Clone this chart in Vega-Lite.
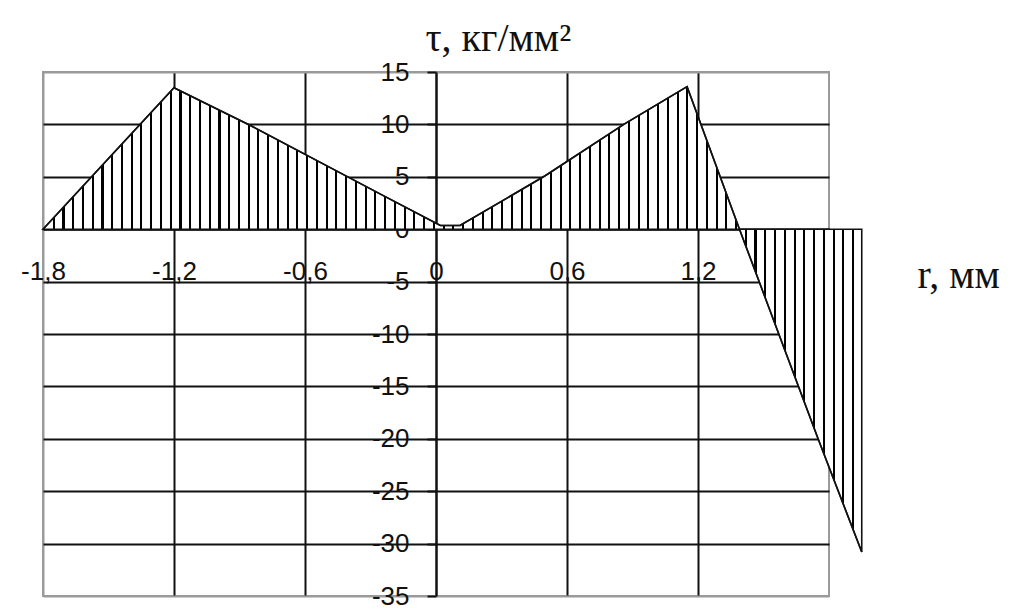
{
  "$schema": "https://vega.github.io/schema/vega-lite/v6.json",
  "width": 786,
  "height": 524,
  "autosize": {"type": "none"},
  "padding": {"left": 43, "top": 72, "right": 195, "bottom": 14},
  "background": "white",
  "config": {"view": {"stroke": "#9a9a9a", "strokeWidth": 2}},
  "data": {
    "values": [
      {"r": -1.8, "tau": 0},
      {"r": -1.2, "tau": 13.5},
      {"r": -0.85, "tau": 9.9},
      {"r": -0.25, "tau": 3.3},
      {"r": 0.02, "tau": 0.35},
      {"r": 0.11, "tau": 0.35},
      {"r": 0.5, "tau": 5.1},
      {"r": 0.86, "tau": 10},
      {"r": 1.15, "tau": 13.6},
      {"r": 1.39, "tau": 0},
      {"r": 1.75, "tau": -20},
      {"r": 1.95, "tau": -30.8}
    ]
  },
  "encoding": {
    "x": {
      "field": "r",
      "type": "quantitative",
      "scale": {"domain": [-1.8, 1.8], "nice": false, "zero": false},
      "axis": {
        "orient": "bottom",
        "offset": -366.8,
        "values": [-1.8, -1.2, -0.6, 0, 0.6, 1.2],
        "labelExpr": "datum.value == 0 ? '0' : replace(replace(format(datum.value, '.1f'), '.', ','), '\u2212', '-')",
        "ticks": false,
        "domainColor": "#111",
        "domainWidth": 2,
        "grid": true,
        "gridColor": {"condition": {"test": "datum.value < -1.7", "value": "#9a9a9a"}, "value": "#111"},
        "gridWidth": 2,
        "labelFont": "Liberation Sans",
        "labelFontSize": 26,
        "labelColor": "#111",
        "labelPadding": 29,
        "labelOverlap": false,
        "labelFlush": false,
        "title": "r, мм",
        "titleFont": "Liberation Serif",
        "titleFontSize": 40,
        "titleFontWeight": "normal",
        "titleColor": "#111",
        "titleAlign": "left",
        "titleBaseline": "alphabetic",
        "titleX": 874,
        "titleY": 58
      }
    },
    "y": {
      "field": "tau",
      "type": "quantitative",
      "scale": {"domain": [-35, 15], "nice": false},
      "axis": {
        "orient": "left",
        "offset": -393,
        "values": [15, 10, 5, 0, -5, -10, -15, -20, -25, -30, -35],
        "labelExpr": "replace(format(datum.value, 'd'), '\u2212', '-')",
        "tickSize": 9,
        "tickWidth": 2,
        "tickColor": "#111",
        "domainColor": "#111",
        "domainWidth": 2,
        "grid": true,
        "gridColor": {"condition": {"test": "datum.value > 14 || datum.value < -34", "value": "#9a9a9a"}, "value": "#111"},
        "gridWidth": 2,
        "labelFont": "Liberation Sans",
        "labelFontSize": 26,
        "labelColor": "#111",
        "labelPadding": 18,
        "labelOverlap": false,
        "labelFlush": false,
        "title": "τ, кг/мм²",
        "titleFont": "Liberation Serif",
        "titleFontSize": 40,
        "titleFontWeight": "normal",
        "titleColor": "#111",
        "titleAngle": 0,
        "titleAlign": "left",
        "titleBaseline": "alphabetic",
        "titleX": -11,
        "titleY": -22
      }
    }
  },
  "layer": [
    {
      "mark": {
        "type": "area",
        "clip": false,
        "stroke": "#111",
        "strokeWidth": 1.6,
        "fill": {
          "gradient": "linear",
          "x1": 0, "y1": 0, "x2": 1, "y2": 0,
          "stops": [
            {"offset": 0, "color": "#fff"},
            {"offset": 0.0119, "color": "#fff"}, {"offset": 0.0119, "color": "#000"}, {"offset": 0.0144, "color": "#000"}, {"offset": 0.0144, "color": "#fff"},
            {"offset": 0.0238, "color": "#fff"}, {"offset": 0.0238, "color": "#000"}, {"offset": 0.0263, "color": "#000"}, {"offset": 0.0263, "color": "#fff"},
            {"offset": 0.0357, "color": "#fff"}, {"offset": 0.0357, "color": "#000"}, {"offset": 0.0382, "color": "#000"}, {"offset": 0.0382, "color": "#fff"},
            {"offset": 0.0476, "color": "#fff"}, {"offset": 0.0476, "color": "#000"}, {"offset": 0.0501, "color": "#000"}, {"offset": 0.0501, "color": "#fff"},
            {"offset": 0.0595, "color": "#fff"}, {"offset": 0.0595, "color": "#000"}, {"offset": 0.0620, "color": "#000"}, {"offset": 0.0620, "color": "#fff"},
            {"offset": 0.0714, "color": "#fff"}, {"offset": 0.0714, "color": "#000"}, {"offset": 0.0739, "color": "#000"}, {"offset": 0.0739, "color": "#fff"},
            {"offset": 0.0833, "color": "#fff"}, {"offset": 0.0833, "color": "#000"}, {"offset": 0.0858, "color": "#000"}, {"offset": 0.0858, "color": "#fff"},
            {"offset": 0.0952, "color": "#fff"}, {"offset": 0.0952, "color": "#000"}, {"offset": 0.0977, "color": "#000"}, {"offset": 0.0977, "color": "#fff"},
            {"offset": 0.1071, "color": "#fff"}, {"offset": 0.1071, "color": "#000"}, {"offset": 0.1096, "color": "#000"}, {"offset": 0.1096, "color": "#fff"},
            {"offset": 0.1190, "color": "#fff"}, {"offset": 0.1190, "color": "#000"}, {"offset": 0.1215, "color": "#000"}, {"offset": 0.1215, "color": "#fff"},
            {"offset": 0.1310, "color": "#fff"}, {"offset": 0.1310, "color": "#000"}, {"offset": 0.1335, "color": "#000"}, {"offset": 0.1335, "color": "#fff"},
            {"offset": 0.1429, "color": "#fff"}, {"offset": 0.1429, "color": "#000"}, {"offset": 0.1454, "color": "#000"}, {"offset": 0.1454, "color": "#fff"},
            {"offset": 0.1548, "color": "#fff"}, {"offset": 0.1548, "color": "#000"}, {"offset": 0.1573, "color": "#000"}, {"offset": 0.1573, "color": "#fff"},
            {"offset": 0.1667, "color": "#fff"}, {"offset": 0.1667, "color": "#000"}, {"offset": 0.1692, "color": "#000"}, {"offset": 0.1692, "color": "#fff"},
            {"offset": 0.1786, "color": "#fff"}, {"offset": 0.1786, "color": "#000"}, {"offset": 0.1811, "color": "#000"}, {"offset": 0.1811, "color": "#fff"},
            {"offset": 0.1905, "color": "#fff"}, {"offset": 0.1905, "color": "#000"}, {"offset": 0.1930, "color": "#000"}, {"offset": 0.1930, "color": "#fff"},
            {"offset": 0.2024, "color": "#fff"}, {"offset": 0.2024, "color": "#000"}, {"offset": 0.2049, "color": "#000"}, {"offset": 0.2049, "color": "#fff"},
            {"offset": 0.2143, "color": "#fff"}, {"offset": 0.2143, "color": "#000"}, {"offset": 0.2168, "color": "#000"}, {"offset": 0.2168, "color": "#fff"},
            {"offset": 0.2262, "color": "#fff"}, {"offset": 0.2262, "color": "#000"}, {"offset": 0.2287, "color": "#000"}, {"offset": 0.2287, "color": "#fff"},
            {"offset": 0.2381, "color": "#fff"}, {"offset": 0.2381, "color": "#000"}, {"offset": 0.2406, "color": "#000"}, {"offset": 0.2406, "color": "#fff"},
            {"offset": 0.2500, "color": "#fff"}, {"offset": 0.2500, "color": "#000"}, {"offset": 0.2525, "color": "#000"}, {"offset": 0.2525, "color": "#fff"},
            {"offset": 0.2619, "color": "#fff"}, {"offset": 0.2619, "color": "#000"}, {"offset": 0.2644, "color": "#000"}, {"offset": 0.2644, "color": "#fff"},
            {"offset": 0.2738, "color": "#fff"}, {"offset": 0.2738, "color": "#000"}, {"offset": 0.2763, "color": "#000"}, {"offset": 0.2763, "color": "#fff"},
            {"offset": 0.2857, "color": "#fff"}, {"offset": 0.2857, "color": "#000"}, {"offset": 0.2882, "color": "#000"}, {"offset": 0.2882, "color": "#fff"},
            {"offset": 0.2976, "color": "#fff"}, {"offset": 0.2976, "color": "#000"}, {"offset": 0.3001, "color": "#000"}, {"offset": 0.3001, "color": "#fff"},
            {"offset": 0.3095, "color": "#fff"}, {"offset": 0.3095, "color": "#000"}, {"offset": 0.3120, "color": "#000"}, {"offset": 0.3120, "color": "#fff"},
            {"offset": 0.3214, "color": "#fff"}, {"offset": 0.3214, "color": "#000"}, {"offset": 0.3239, "color": "#000"}, {"offset": 0.3239, "color": "#fff"},
            {"offset": 0.3333, "color": "#fff"}, {"offset": 0.3333, "color": "#000"}, {"offset": 0.3358, "color": "#000"}, {"offset": 0.3358, "color": "#fff"},
            {"offset": 0.3452, "color": "#fff"}, {"offset": 0.3452, "color": "#000"}, {"offset": 0.3477, "color": "#000"}, {"offset": 0.3477, "color": "#fff"},
            {"offset": 0.3571, "color": "#fff"}, {"offset": 0.3571, "color": "#000"}, {"offset": 0.3596, "color": "#000"}, {"offset": 0.3596, "color": "#fff"},
            {"offset": 0.3690, "color": "#fff"}, {"offset": 0.3690, "color": "#000"}, {"offset": 0.3715, "color": "#000"}, {"offset": 0.3715, "color": "#fff"},
            {"offset": 0.3810, "color": "#fff"}, {"offset": 0.3810, "color": "#000"}, {"offset": 0.3835, "color": "#000"}, {"offset": 0.3835, "color": "#fff"},
            {"offset": 0.3929, "color": "#fff"}, {"offset": 0.3929, "color": "#000"}, {"offset": 0.3954, "color": "#000"}, {"offset": 0.3954, "color": "#fff"},
            {"offset": 0.4048, "color": "#fff"}, {"offset": 0.4048, "color": "#000"}, {"offset": 0.4073, "color": "#000"}, {"offset": 0.4073, "color": "#fff"},
            {"offset": 0.4167, "color": "#fff"}, {"offset": 0.4167, "color": "#000"}, {"offset": 0.4192, "color": "#000"}, {"offset": 0.4192, "color": "#fff"},
            {"offset": 0.4286, "color": "#fff"}, {"offset": 0.4286, "color": "#000"}, {"offset": 0.4311, "color": "#000"}, {"offset": 0.4311, "color": "#fff"},
            {"offset": 0.4405, "color": "#fff"}, {"offset": 0.4405, "color": "#000"}, {"offset": 0.4430, "color": "#000"}, {"offset": 0.4430, "color": "#fff"},
            {"offset": 0.4524, "color": "#fff"}, {"offset": 0.4524, "color": "#000"}, {"offset": 0.4549, "color": "#000"}, {"offset": 0.4549, "color": "#fff"},
            {"offset": 0.4643, "color": "#fff"}, {"offset": 0.4643, "color": "#000"}, {"offset": 0.4668, "color": "#000"}, {"offset": 0.4668, "color": "#fff"},
            {"offset": 0.4762, "color": "#fff"}, {"offset": 0.4762, "color": "#000"}, {"offset": 0.4787, "color": "#000"}, {"offset": 0.4787, "color": "#fff"},
            {"offset": 0.4881, "color": "#fff"}, {"offset": 0.4881, "color": "#000"}, {"offset": 0.4906, "color": "#000"}, {"offset": 0.4906, "color": "#fff"},
            {"offset": 0.5000, "color": "#fff"}, {"offset": 0.5000, "color": "#000"}, {"offset": 0.5025, "color": "#000"}, {"offset": 0.5025, "color": "#fff"},
            {"offset": 0.5119, "color": "#fff"}, {"offset": 0.5119, "color": "#000"}, {"offset": 0.5144, "color": "#000"}, {"offset": 0.5144, "color": "#fff"},
            {"offset": 0.5238, "color": "#fff"}, {"offset": 0.5238, "color": "#000"}, {"offset": 0.5263, "color": "#000"}, {"offset": 0.5263, "color": "#fff"},
            {"offset": 0.5357, "color": "#fff"}, {"offset": 0.5357, "color": "#000"}, {"offset": 0.5382, "color": "#000"}, {"offset": 0.5382, "color": "#fff"},
            {"offset": 0.5476, "color": "#fff"}, {"offset": 0.5476, "color": "#000"}, {"offset": 0.5501, "color": "#000"}, {"offset": 0.5501, "color": "#fff"},
            {"offset": 0.5595, "color": "#fff"}, {"offset": 0.5595, "color": "#000"}, {"offset": 0.5620, "color": "#000"}, {"offset": 0.5620, "color": "#fff"},
            {"offset": 0.5714, "color": "#fff"}, {"offset": 0.5714, "color": "#000"}, {"offset": 0.5739, "color": "#000"}, {"offset": 0.5739, "color": "#fff"},
            {"offset": 0.5833, "color": "#fff"}, {"offset": 0.5833, "color": "#000"}, {"offset": 0.5858, "color": "#000"}, {"offset": 0.5858, "color": "#fff"},
            {"offset": 0.5952, "color": "#fff"}, {"offset": 0.5952, "color": "#000"}, {"offset": 0.5977, "color": "#000"}, {"offset": 0.5977, "color": "#fff"},
            {"offset": 0.6071, "color": "#fff"}, {"offset": 0.6071, "color": "#000"}, {"offset": 0.6096, "color": "#000"}, {"offset": 0.6096, "color": "#fff"},
            {"offset": 0.6190, "color": "#fff"}, {"offset": 0.6190, "color": "#000"}, {"offset": 0.6215, "color": "#000"}, {"offset": 0.6215, "color": "#fff"},
            {"offset": 0.6310, "color": "#fff"}, {"offset": 0.6310, "color": "#000"}, {"offset": 0.6335, "color": "#000"}, {"offset": 0.6335, "color": "#fff"},
            {"offset": 0.6429, "color": "#fff"}, {"offset": 0.6429, "color": "#000"}, {"offset": 0.6454, "color": "#000"}, {"offset": 0.6454, "color": "#fff"},
            {"offset": 0.6548, "color": "#fff"}, {"offset": 0.6548, "color": "#000"}, {"offset": 0.6573, "color": "#000"}, {"offset": 0.6573, "color": "#fff"},
            {"offset": 0.6667, "color": "#fff"}, {"offset": 0.6667, "color": "#000"}, {"offset": 0.6692, "color": "#000"}, {"offset": 0.6692, "color": "#fff"},
            {"offset": 0.6786, "color": "#fff"}, {"offset": 0.6786, "color": "#000"}, {"offset": 0.6811, "color": "#000"}, {"offset": 0.6811, "color": "#fff"},
            {"offset": 0.6905, "color": "#fff"}, {"offset": 0.6905, "color": "#000"}, {"offset": 0.6930, "color": "#000"}, {"offset": 0.6930, "color": "#fff"},
            {"offset": 0.7024, "color": "#fff"}, {"offset": 0.7024, "color": "#000"}, {"offset": 0.7049, "color": "#000"}, {"offset": 0.7049, "color": "#fff"},
            {"offset": 0.7143, "color": "#fff"}, {"offset": 0.7143, "color": "#000"}, {"offset": 0.7168, "color": "#000"}, {"offset": 0.7168, "color": "#fff"},
            {"offset": 0.7262, "color": "#fff"}, {"offset": 0.7262, "color": "#000"}, {"offset": 0.7287, "color": "#000"}, {"offset": 0.7287, "color": "#fff"},
            {"offset": 0.7381, "color": "#fff"}, {"offset": 0.7381, "color": "#000"}, {"offset": 0.7406, "color": "#000"}, {"offset": 0.7406, "color": "#fff"},
            {"offset": 0.7500, "color": "#fff"}, {"offset": 0.7500, "color": "#000"}, {"offset": 0.7525, "color": "#000"}, {"offset": 0.7525, "color": "#fff"},
            {"offset": 0.7619, "color": "#fff"}, {"offset": 0.7619, "color": "#000"}, {"offset": 0.7644, "color": "#000"}, {"offset": 0.7644, "color": "#fff"},
            {"offset": 0.7738, "color": "#fff"}, {"offset": 0.7738, "color": "#000"}, {"offset": 0.7763, "color": "#000"}, {"offset": 0.7763, "color": "#fff"},
            {"offset": 0.7857, "color": "#fff"}, {"offset": 0.7857, "color": "#000"}, {"offset": 0.7882, "color": "#000"}, {"offset": 0.7882, "color": "#fff"},
            {"offset": 0.7976, "color": "#fff"}, {"offset": 0.7976, "color": "#000"}, {"offset": 0.8001, "color": "#000"}, {"offset": 0.8001, "color": "#fff"},
            {"offset": 0.8095, "color": "#fff"}, {"offset": 0.8095, "color": "#000"}, {"offset": 0.8120, "color": "#000"}, {"offset": 0.8120, "color": "#fff"},
            {"offset": 0.8214, "color": "#fff"}, {"offset": 0.8214, "color": "#000"}, {"offset": 0.8239, "color": "#000"}, {"offset": 0.8239, "color": "#fff"},
            {"offset": 0.8333, "color": "#fff"}, {"offset": 0.8333, "color": "#000"}, {"offset": 0.8358, "color": "#000"}, {"offset": 0.8358, "color": "#fff"},
            {"offset": 0.8452, "color": "#fff"}, {"offset": 0.8452, "color": "#000"}, {"offset": 0.8477, "color": "#000"}, {"offset": 0.8477, "color": "#fff"},
            {"offset": 0.8571, "color": "#fff"}, {"offset": 0.8571, "color": "#000"}, {"offset": 0.8596, "color": "#000"}, {"offset": 0.8596, "color": "#fff"},
            {"offset": 0.8690, "color": "#fff"}, {"offset": 0.8690, "color": "#000"}, {"offset": 0.8715, "color": "#000"}, {"offset": 0.8715, "color": "#fff"},
            {"offset": 0.8810, "color": "#fff"}, {"offset": 0.8810, "color": "#000"}, {"offset": 0.8835, "color": "#000"}, {"offset": 0.8835, "color": "#fff"},
            {"offset": 0.8929, "color": "#fff"}, {"offset": 0.8929, "color": "#000"}, {"offset": 0.8954, "color": "#000"}, {"offset": 0.8954, "color": "#fff"},
            {"offset": 0.9048, "color": "#fff"}, {"offset": 0.9048, "color": "#000"}, {"offset": 0.9073, "color": "#000"}, {"offset": 0.9073, "color": "#fff"},
            {"offset": 0.9167, "color": "#fff"}, {"offset": 0.9167, "color": "#000"}, {"offset": 0.9192, "color": "#000"}, {"offset": 0.9192, "color": "#fff"},
            {"offset": 0.9286, "color": "#fff"}, {"offset": 0.9286, "color": "#000"}, {"offset": 0.9311, "color": "#000"}, {"offset": 0.9311, "color": "#fff"},
            {"offset": 0.9405, "color": "#fff"}, {"offset": 0.9405, "color": "#000"}, {"offset": 0.9430, "color": "#000"}, {"offset": 0.9430, "color": "#fff"},
            {"offset": 0.9524, "color": "#fff"}, {"offset": 0.9524, "color": "#000"}, {"offset": 0.9549, "color": "#000"}, {"offset": 0.9549, "color": "#fff"},
            {"offset": 0.9643, "color": "#fff"}, {"offset": 0.9643, "color": "#000"}, {"offset": 0.9668, "color": "#000"}, {"offset": 0.9668, "color": "#fff"},
            {"offset": 0.9762, "color": "#fff"}, {"offset": 0.9762, "color": "#000"}, {"offset": 0.9787, "color": "#000"}, {"offset": 0.9787, "color": "#fff"},
            {"offset": 0.9881, "color": "#fff"}, {"offset": 0.9881, "color": "#000"}, {"offset": 0.9906, "color": "#000"}, {"offset": 0.9906, "color": "#fff"},
            {"offset": 1, "color": "#fff"}
          ]
        }
      },
      "encoding": {"y2": {"datum": 0}}
    },
    {
      "mark": {"type": "line", "clip": false, "color": "#111", "strokeWidth": 1.6}
    }
  ]
}
